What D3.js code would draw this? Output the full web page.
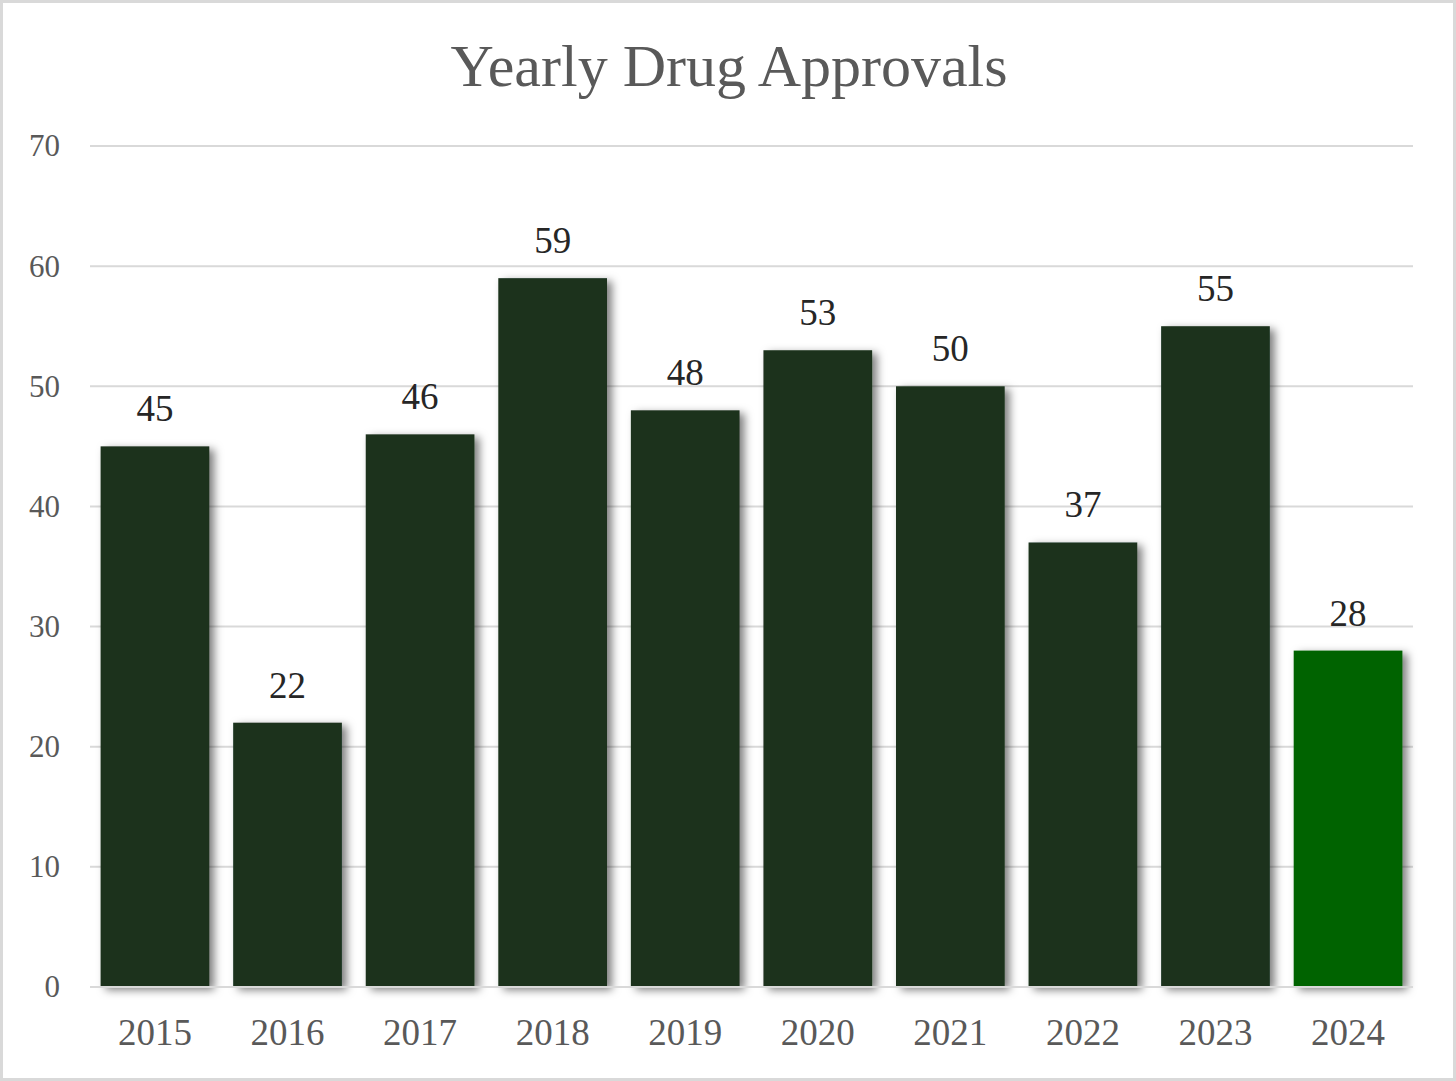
<!DOCTYPE html>
<html>
<head>
<meta charset="utf-8">
<script src="https://cdn.jsdelivr.net/npm/d3@7"></script>
<style>
  body { margin: 0; background: #fff; }
  svg { display: block; }
  text { font-family: "Liberation Serif", "Times New Roman", serif; }
</style>
</head>
<body>
<script>
const years = ['2015', '2016', '2017', '2018', '2019', '2020', '2021', '2022', '2023', '2024']
const approvals = [45, 22, 46, 59, 48, 53, 50, 37, 55, 28]
const y_ticks = [0, 10, 20, 30, 40, 50, 60, 70]
const highlight_year = '2024'

const width = 1456, height = 1081
const margin = { top: 146, right: 43, bottom: 94, left: 90 }

const svg = d3.select('body').append('svg')
  .attr('width', width)
  .attr('height', height)

svg.append('rect')
  .attr('x', 1.5).attr('y', 1.5)
  .attr('width', width - 3).attr('height', height - 3)
  .attr('fill', '#fff')
  .attr('stroke', '#d9d9d9')
  .attr('stroke-width', 3)

const defs = svg.append('defs')
const shadow = defs.append('filter')
  .attr('id', 'shadow')
  .attr('x', '-10%').attr('y', '-10%')
  .attr('width', '130%').attr('height', '130%')
shadow.append('feDropShadow')
  .attr('dx', 5).attr('dy', 3)
  .attr('stdDeviation', 4.5)
  .attr('flood-color', '#000')
  .attr('flood-opacity', 0.5)

const x = d3.scaleBand()
  .domain(years)
  .range([margin.left, width - margin.right])
  .paddingInner(0.18)
  .paddingOuter(0.08)

const y = d3.scaleLinear()
  .domain([0, 70])
  .range([height - margin.bottom, margin.top])

// gridlines
svg.append('g')
  .selectAll('line')
  .data(y_ticks)
  .join('line')
  .attr('x1', margin.left)
  .attr('x2', width - margin.right)
  .attr('y1', (d)=> y(d))
  .attr('y2', (d)=> y(d))
  .attr('stroke', '#d9d9d9')
  .attr('stroke-width', 2)

// y axis labels
const y_axis = svg.append('g')
  .attr('transform', `translate(${margin.left - 30},0)`)
  .call(d3.axisLeft(y).tickValues(y_ticks).tickSize(0).tickPadding(0))
y_axis.select('.domain').remove()
y_axis.selectAll('text')
  .attr('font-size', 31)
  .attr('fill', '#595959')

// bars
svg.append('g')
  .selectAll('rect')
  .data(years)
  .join('rect')
  .attr('x', (d)=> x(d))
  .attr('y', (d, i)=> y(approvals[i]))
  .attr('width', x.bandwidth())
  .attr('height', (d, i)=> y(0) - y(approvals[i]))
  .attr('fill', (d)=> d === highlight_year ? '#006400' : '#1b321e')
  .attr('filter', 'url(#shadow)')

// baseline
svg.append('line')
  .attr('x1', margin.left)
  .attr('x2', width - margin.right)
  .attr('y1', y(0))
  .attr('y2', y(0))
  .attr('stroke', '#d9d9d9')
  .attr('stroke-width', 2)

// x axis labels
const x_axis = svg.append('g')
  .attr('transform', `translate(0,${y(0)})`)
  .call(d3.axisBottom(x).tickSize(0).tickPadding(32))
x_axis.select('.domain').remove()
x_axis.selectAll('text')
  .attr('font-size', 37)
  .attr('fill', '#595959')

// value labels
svg.append('g')
  .selectAll('text')
  .data(years)
  .join('text')
  .attr('x', (d)=> x(d) + x.bandwidth() / 2)
  .attr('y', (d, i)=> y(approvals[i]) - 25)
  .attr('text-anchor', 'middle')
  .attr('font-size', 37)
  .attr('fill', '#262626')
  .text((d, i)=> approvals[i])

// title
svg.append('text')
  .attr('x', 729)
  .attr('y', 86)
  .attr('text-anchor', 'middle')
  .attr('font-size', 60)
  .attr('fill', '#595959')
  .text('Yearly Drug Approvals')
</script>
</body>
</html>
